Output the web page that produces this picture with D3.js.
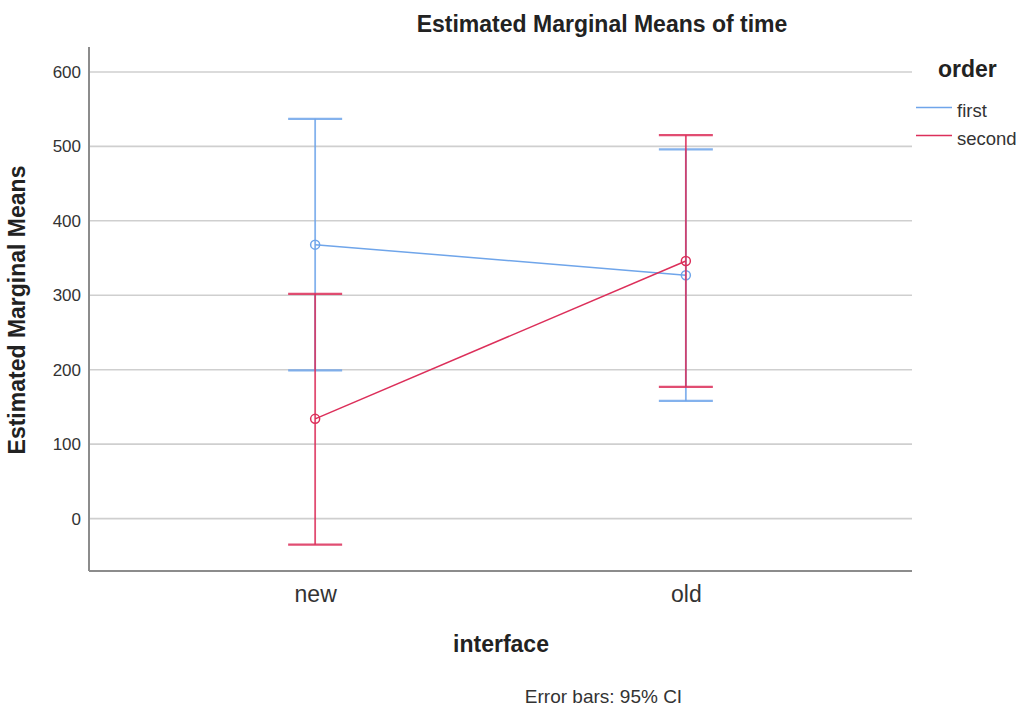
<!DOCTYPE html>
<html>
<head>
<meta charset="utf-8">
<script src="https://cdn.jsdelivr.net/npm/d3@7"></script>
<style>
  body { margin: 0; background: #fff; }
  text { font-family: "Liberation Sans", Arial, sans-serif; fill: #222; }
</style>
</head>
<body>
<svg width="1024" height="707"></svg>
<script>
// chart values
var categories = ["new", "old"];
var seriesNames = ["first", "second"];
var firstMean = [368, 327];
var firstLow = [199, 158];
var firstHigh = [537, 496];
var secondMean = [134, 346];
var secondLow = [-35, 177];
var secondHigh = [302, 515];
var yTicks = [0, 100, 200, 300, 400, 500, 600];

var colors = {first: "#6fa5ea", second: "#dc2f5a"};

var svg = d3.select("svg"),
    margin = {top: 47, right: 112, bottom: 136, left: 89},
    width = 1024 - margin.left - margin.right,
    height = 707 - margin.top - margin.bottom;

var x = d3.scalePoint().domain(categories).range([0, width]).padding(0.61),
    y = d3.scaleLinear().domain([-70.4, 633.5]).range([height, 0]);

var g = svg.append("g")
    .attr("transform", "translate(" + margin.left + "," + margin.top + ")");

/* grid lines */
g.append("g")
    .selectAll("line")
    .data(yTicks)
    .enter().append("line")
      .attr("x1", 0)
      .attr("x2", width)
      .attr("y1", function(d) { return y(d); })
      .attr("y2", function(d) { return y(d); })
      .attr("stroke", "#cfcfcf")
      .attr("stroke-width", 1.6);

/* axes */
var yAxis = g.append("g")
    .call(d3.axisLeft(y).tickValues(yTicks).tickSize(0).tickPadding(8));
yAxis.select(".domain").remove();
yAxis.selectAll("text")
    .style("font-size", "17px")
    .style("fill", "#333");

var xAxis = g.append("g")
    .attr("transform", "translate(0," + height + ")")
    .call(d3.axisBottom(x).tickSize(0).tickPadding(15));
xAxis.select(".domain").remove();
xAxis.selectAll("text")
    .style("font-size", "23px")
    .style("fill", "#333");

g.append("line")
    .attr("x1", 0).attr("x2", 0)
    .attr("y1", 0).attr("y2", height)
    .attr("stroke", "#8c8c8c").attr("stroke-width", 2);
g.append("line")
    .attr("x1", 0).attr("x2", width)
    .attr("y1", height).attr("y2", height)
    .attr("stroke", "#8c8c8c").attr("stroke-width", 2);

/* series data */
var series = [
  {name: "first", mean: firstMean, low: firstLow, high: firstHigh},
  {name: "second", mean: secondMean, low: secondLow, high: secondHigh}
];

var line = d3.line()
    .x(function(d) { return x(d.cat); })
    .y(function(d) { return y(d.v); });

var capHalf = 27;

series.forEach(function(s) {
  var pts = categories.map(function(c, i) {
    return {cat: c, v: s.mean[i], lo: s.low[i], hi: s.high[i]};
  });
  var col = colors[s.name];
  var sg = g.append("g");

  // error bars
  pts.forEach(function(p) {
    var cx = x(p.cat);
    sg.append("line")
        .attr("x1", cx).attr("x2", cx)
        .attr("y1", y(p.hi)).attr("y2", y(p.lo))
        .attr("stroke", col).attr("stroke-width", 1.8).attr("opacity", 0.85);
    [p.hi, p.lo].forEach(function(v) {
      sg.append("line")
          .attr("x1", cx - capHalf).attr("x2", cx + capHalf)
          .attr("y1", y(v)).attr("y2", y(v))
          .attr("stroke", col).attr("stroke-width", 2.2).attr("opacity", 0.85);
    });
  });

  sg.append("path")
      .datum(pts)
      .attr("d", line)
      .attr("fill", "none")
      .attr("stroke", col)
      .attr("stroke-width", 1.5);

  sg.selectAll("circle")
      .data(pts)
      .enter().append("circle")
        .attr("cx", function(d) { return x(d.cat); })
        .attr("cy", function(d) { return y(d.v); })
        .attr("r", 4.5)
        .attr("fill", "none")
        .attr("stroke", col)
        .attr("stroke-width", 1.5);
});

/* titles */
svg.append("text")
    .attr("x", 602).attr("y", 32)
    .attr("text-anchor", "middle")
    .style("font-size", "23px").style("font-weight", "bold")
    .text("Estimated Marginal Means of time");

svg.append("text")
    .attr("transform", "translate(25,310) rotate(-90)")
    .attr("text-anchor", "middle")
    .style("font-size", "23px").style("font-weight", "bold")
    .text("Estimated Marginal Means");

svg.append("text")
    .attr("x", 501).attr("y", 652)
    .attr("text-anchor", "middle")
    .style("font-size", "23px").style("font-weight", "bold")
    .text("interface");

svg.append("text")
    .attr("x", 603.5).attr("y", 703)
    .attr("text-anchor", "middle")
    .style("font-size", "19px").style("fill", "#333")
    .text("Error bars: 95% CI");

/* legend */
var legend = svg.append("g").attr("transform", "translate(916,0)");
legend.append("text")
    .attr("x", 22).attr("y", 77)
    .style("font-size", "23px").style("font-weight", "bold")
    .text("order");
seriesNames.forEach(function(n, i) {
  var ly = 107.5 + i * 28;
  legend.append("line")
      .attr("x1", 0).attr("x2", 36)
      .attr("y1", ly).attr("y2", ly)
      .attr("stroke", colors[n]).attr("stroke-width", 1.5);
  legend.append("text")
      .attr("x", 41).attr("y", ly + 9)
      .style("font-size", "18.5px").style("fill", "#333")
      .text(n);
});
</script>
</body>
</html>
